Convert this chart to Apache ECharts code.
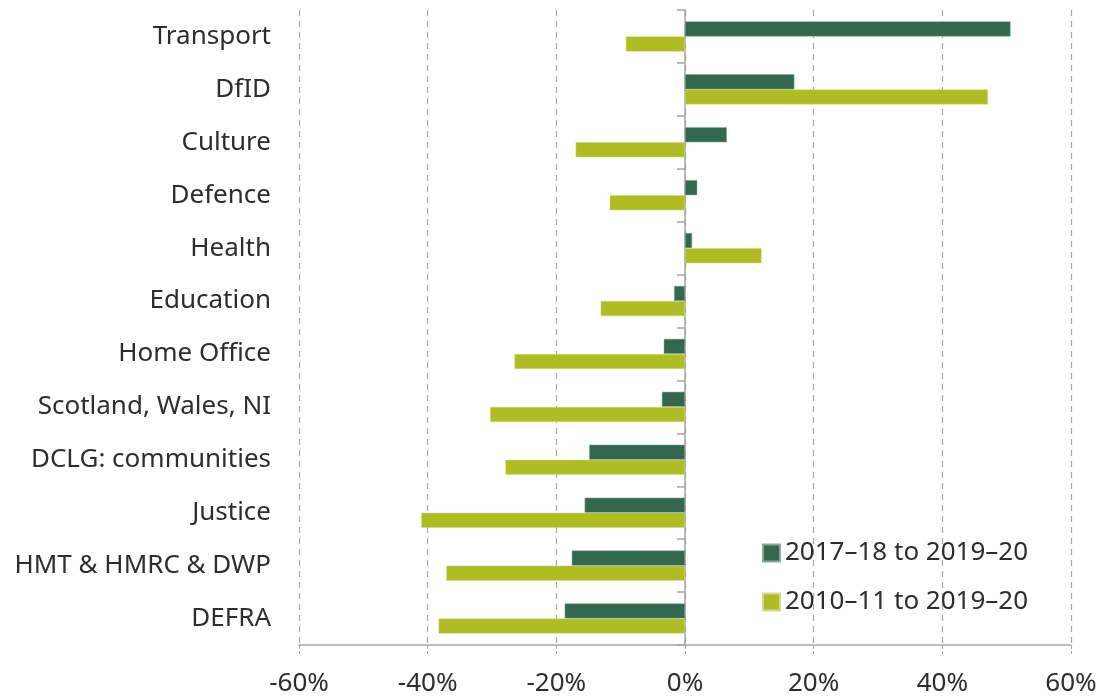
<!DOCTYPE html>
<html>
<head>
<meta charset="utf-8">
<script src="https://cdn.jsdelivr.net/npm/echarts@6/dist/echarts.min.js"></script>
<style>
  html, body { margin: 0; padding: 0; background: #fff; }
  #chart { width: 1104px; height: 698px; }
</style>
</head>
<body>
<div id="chart"></div>
<script>
// departments, top to bottom
var departments = ['Transport', 'DfID', 'Culture', 'Defence', 'Health', 'Education',
  'Home Office', 'Scotland, Wales, NI', 'DCLG: communities', 'Justice',
  'HMT & HMRC & DWP', 'DEFRA'];
// % change 2017–18 to 2019–20
var recentChange = [50.6, 17.0, 6.5, 1.9, 1.1, -1.7, -3.3, -3.6, -14.9, -15.6, -17.6, -18.7];
// % change 2010–11 to 2019–20
var longChange = [-9.2, 47.1, -17.0, -11.7, 11.9, -13.1, -26.5, -30.3, -27.9, -41.0, -37.1, -38.3];
var seriesNames = ['2017\u201318 to 2019\u201320', '2010\u201311 to 2019\u201320'];

var chart = echarts.init(document.getElementById('chart'));
var font = '"Noto Sans", "Open Sans", sans-serif';
var option = {
  animation: false,
  color: ['#336850', '#afbc22'],
  grid: { left: 299, right: 33, top: 10, bottom: 53 },
  legend: {
    orient: 'vertical',
    left: 757,
    top: 535,
    itemWidth: 17,
    itemHeight: 17,
    itemGap: 23,
    icon: 'rect',
    textStyle: { fontFamily: font, fontSize: 26, color: '#2d2d2d' },
    data: seriesNames
  },
  xAxis: {
    type: 'value',
    min: -60,
    max: 60,
    interval: 20,
    axisLine: { show: true, onZero: false, lineStyle: { color: '#a6a6a6', width: 1.5 } },
    axisTick: { show: true, length: 9, lineStyle: { color: '#a6a6a6', type: 'dashed' } },
    axisLabel: { formatter: '{value}%', margin: 26, fontFamily: font, fontSize: 26, color: '#2d2d2d' },
    splitLine: { show: true, lineStyle: { color: '#a6a6a6', type: [6, 5], width: 1.2 } }
  },
  yAxis: [
    {
      type: 'category',
      inverse: true,
      data: departments,
      axisLine: { show: false, onZero: false },
      axisTick: { show: false },
      axisLabel: { margin: 28, fontFamily: font, fontSize: 26, color: '#2d2d2d' }
    },
    {
      type: 'category',
      inverse: true,
      data: departments,
      position: 'left',
      axisLine: { show: true, onZero: true, lineStyle: { color: '#a6a6a6', width: 1.5 } },
      axisTick: { show: true, length: 8, lineStyle: { color: '#a6a6a6', width: 1.5 } },
      axisLabel: { show: false }
    }
  ],
  series: [
    {
      name: seriesNames[0],
      type: 'bar',
      yAxisIndex: 0,
      data: recentChange,
      barGap: '0%',
      barCategoryGap: '43%',
      itemStyle: { borderColor: '#8aa99a', borderWidth: 0.5 }
    },
    {
      name: seriesNames[1],
      type: 'bar',
      yAxisIndex: 0,
      data: longChange,
      barGap: '0%',
      barCategoryGap: '43%',
      itemStyle: { borderColor: '#d3da8f', borderWidth: 0.5 }
    }
  ]
};
chart.setOption(option);
</script>
</body>
</html>
